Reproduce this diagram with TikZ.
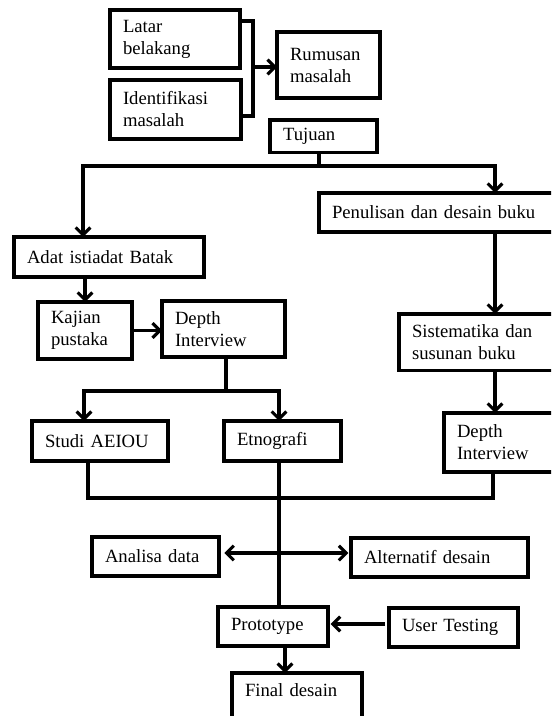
\documentclass[tikz,border=0pt]{standalone}
\usepackage{fontspec}
\setmainfont{Liberation Serif}
\usetikzlibrary{arrows.meta}
\tikzstyle{box} = [rectangle, draw=black, line width=2.3pt, anchor=north west, align=left, inner xsep=9.75pt, inner ysep=3pt, outer sep=0pt, font=\fontsize{14pt}{16.5pt}\selectfont]
\tikzstyle{conn} = [line width=2.3pt]
\tikzstyle{arrow} = [line width=2.3pt,-{Straight Barb[length=5.5pt,width=11pt]}]
\tikzstyle{dblarrow} = [line width=2.3pt,{Straight Barb[length=5.5pt,width=11pt]}-{Straight Barb[length=5.5pt,width=11pt]}]

\begin{document}
\begin{tikzpicture}[x=0.75pt, y=-0.75pt]
\useasboundingbox (0,0) rectangle (551,716);
\clip (0,0) rectangle (551,716);

% top part
\node (latar) [box, text width=78pt, minimum height=43.5pt] at (110,10) {Latar\\belakang};
\node (ident) [box, text width=78.75pt, minimum height=44.25pt] at (110,80) {Identifikasi\\masalah};
\node (rumusan) [box, text width=57.75pt, minimum height=49.5pt] at (277,32) {Rumusan\\masalah};
\node (tujuan) [box, text width=60.75pt, minimum height=24.4pt] at (270,120) {Tujuan};

% left branch
\node (adat) [box, text width=123pt, minimum height=30pt] at (14,237) {Adat istiadat Batak};
\node (kajian) [box, text width=51pt, minimum height=42.75pt] at (38,302) {Kajian\\pustaka};
\node (depthL) [box, text width=72.75pt, minimum height=42pt] at (162,301) {Depth\\Interview};
\node (studi) [box, text width=82.5pt, minimum height=30pt] at (32,421) {Studi AEIOU};
\node (etno) [box, text width=68.25pt, minimum height=30pt] at (224,421) {Etnografi};

% right branch
\node (penulisan) [box, text width=161.25pt, minimum height=29.25pt] at (319,193) {Penulisan dan desain buku};
\node (sistem) [box, text width=101.25pt, minimum height=42.4pt] at (399,314) {Sistematika dan\\susunan buku};
\node (depthR) [box, text width=67.5pt, minimum height=44.25pt] at (444,413) {Depth\\Interview};

% bottom part
\node (analisa) [box, text width=75.75pt, minimum height=29.25pt] at (92,537) {Analisa data};
\node (alternatif) [box, text width=113.25pt, minimum height=29.25pt] at (351,538) {Alternatif desain};
\node (proto) [box, text width=63pt, minimum height=29.25pt] at (218,607) {Prototype};
\node (user) [box, text width=77.25pt, minimum height=29.25pt] at (389,608) {User Testing};
\node (final) [box, text width=78pt, inner ysep=8pt, text depth=30pt] at (232,673) {Final desain};

\coordinate (brk) at (253,67);
\coordinate (tj) at (319,166);
\coordinate (dl) at (226,391);
\coordinate (mrg) at (279,498);

\draw [conn] (latar.east |- 0,21) -| (brk) |- (ident.east |- 0,116);
\draw [arrow] (brk) -- (brk -| rumusan.west);

\draw [conn] (tj |- tujuan.south) -- (tj);
\draw [arrow] (tj) -| (83,0 |- adat.north);
\draw [arrow] (tj) -| (495,0 |- penulisan.north);

\draw [arrow] (kajian.north |- adat.south) -- (kajian.north);
\draw [arrow] (kajian.east) -- (kajian.east -| depthL.west);
\draw [conn] (dl |- depthL.south) -- (dl);
\draw [arrow] (dl) -| (84,0 |- studi.north);
\draw [arrow] (dl) -| (279,0 |- etno.north);

\draw [arrow] (495,0 |- penulisan.south) -- (495,0 |- sistem.north);
\draw [arrow] (495,0 |- sistem.south) -- (495,0 |- depthR.north);

\draw [conn] (88,0 |- studi.south) |- (mrg) -| (493,0 |- depthR.south);
\draw [conn] (mrg |- etno.south) -- (mrg |- proto.north);

\draw [dblarrow, shorten <=4pt, shorten >=2pt] (analisa.east |- 0,553) -- (alternatif.west |- 0,553);
\draw [arrow, shorten <=3pt, shorten >=2pt] (user.west |- 0,624) -- (proto.east |- 0,624);
\draw [arrow] (285,0 |- proto.south) -- (285,0 |- final.north);
\end{tikzpicture}
\end{document}
